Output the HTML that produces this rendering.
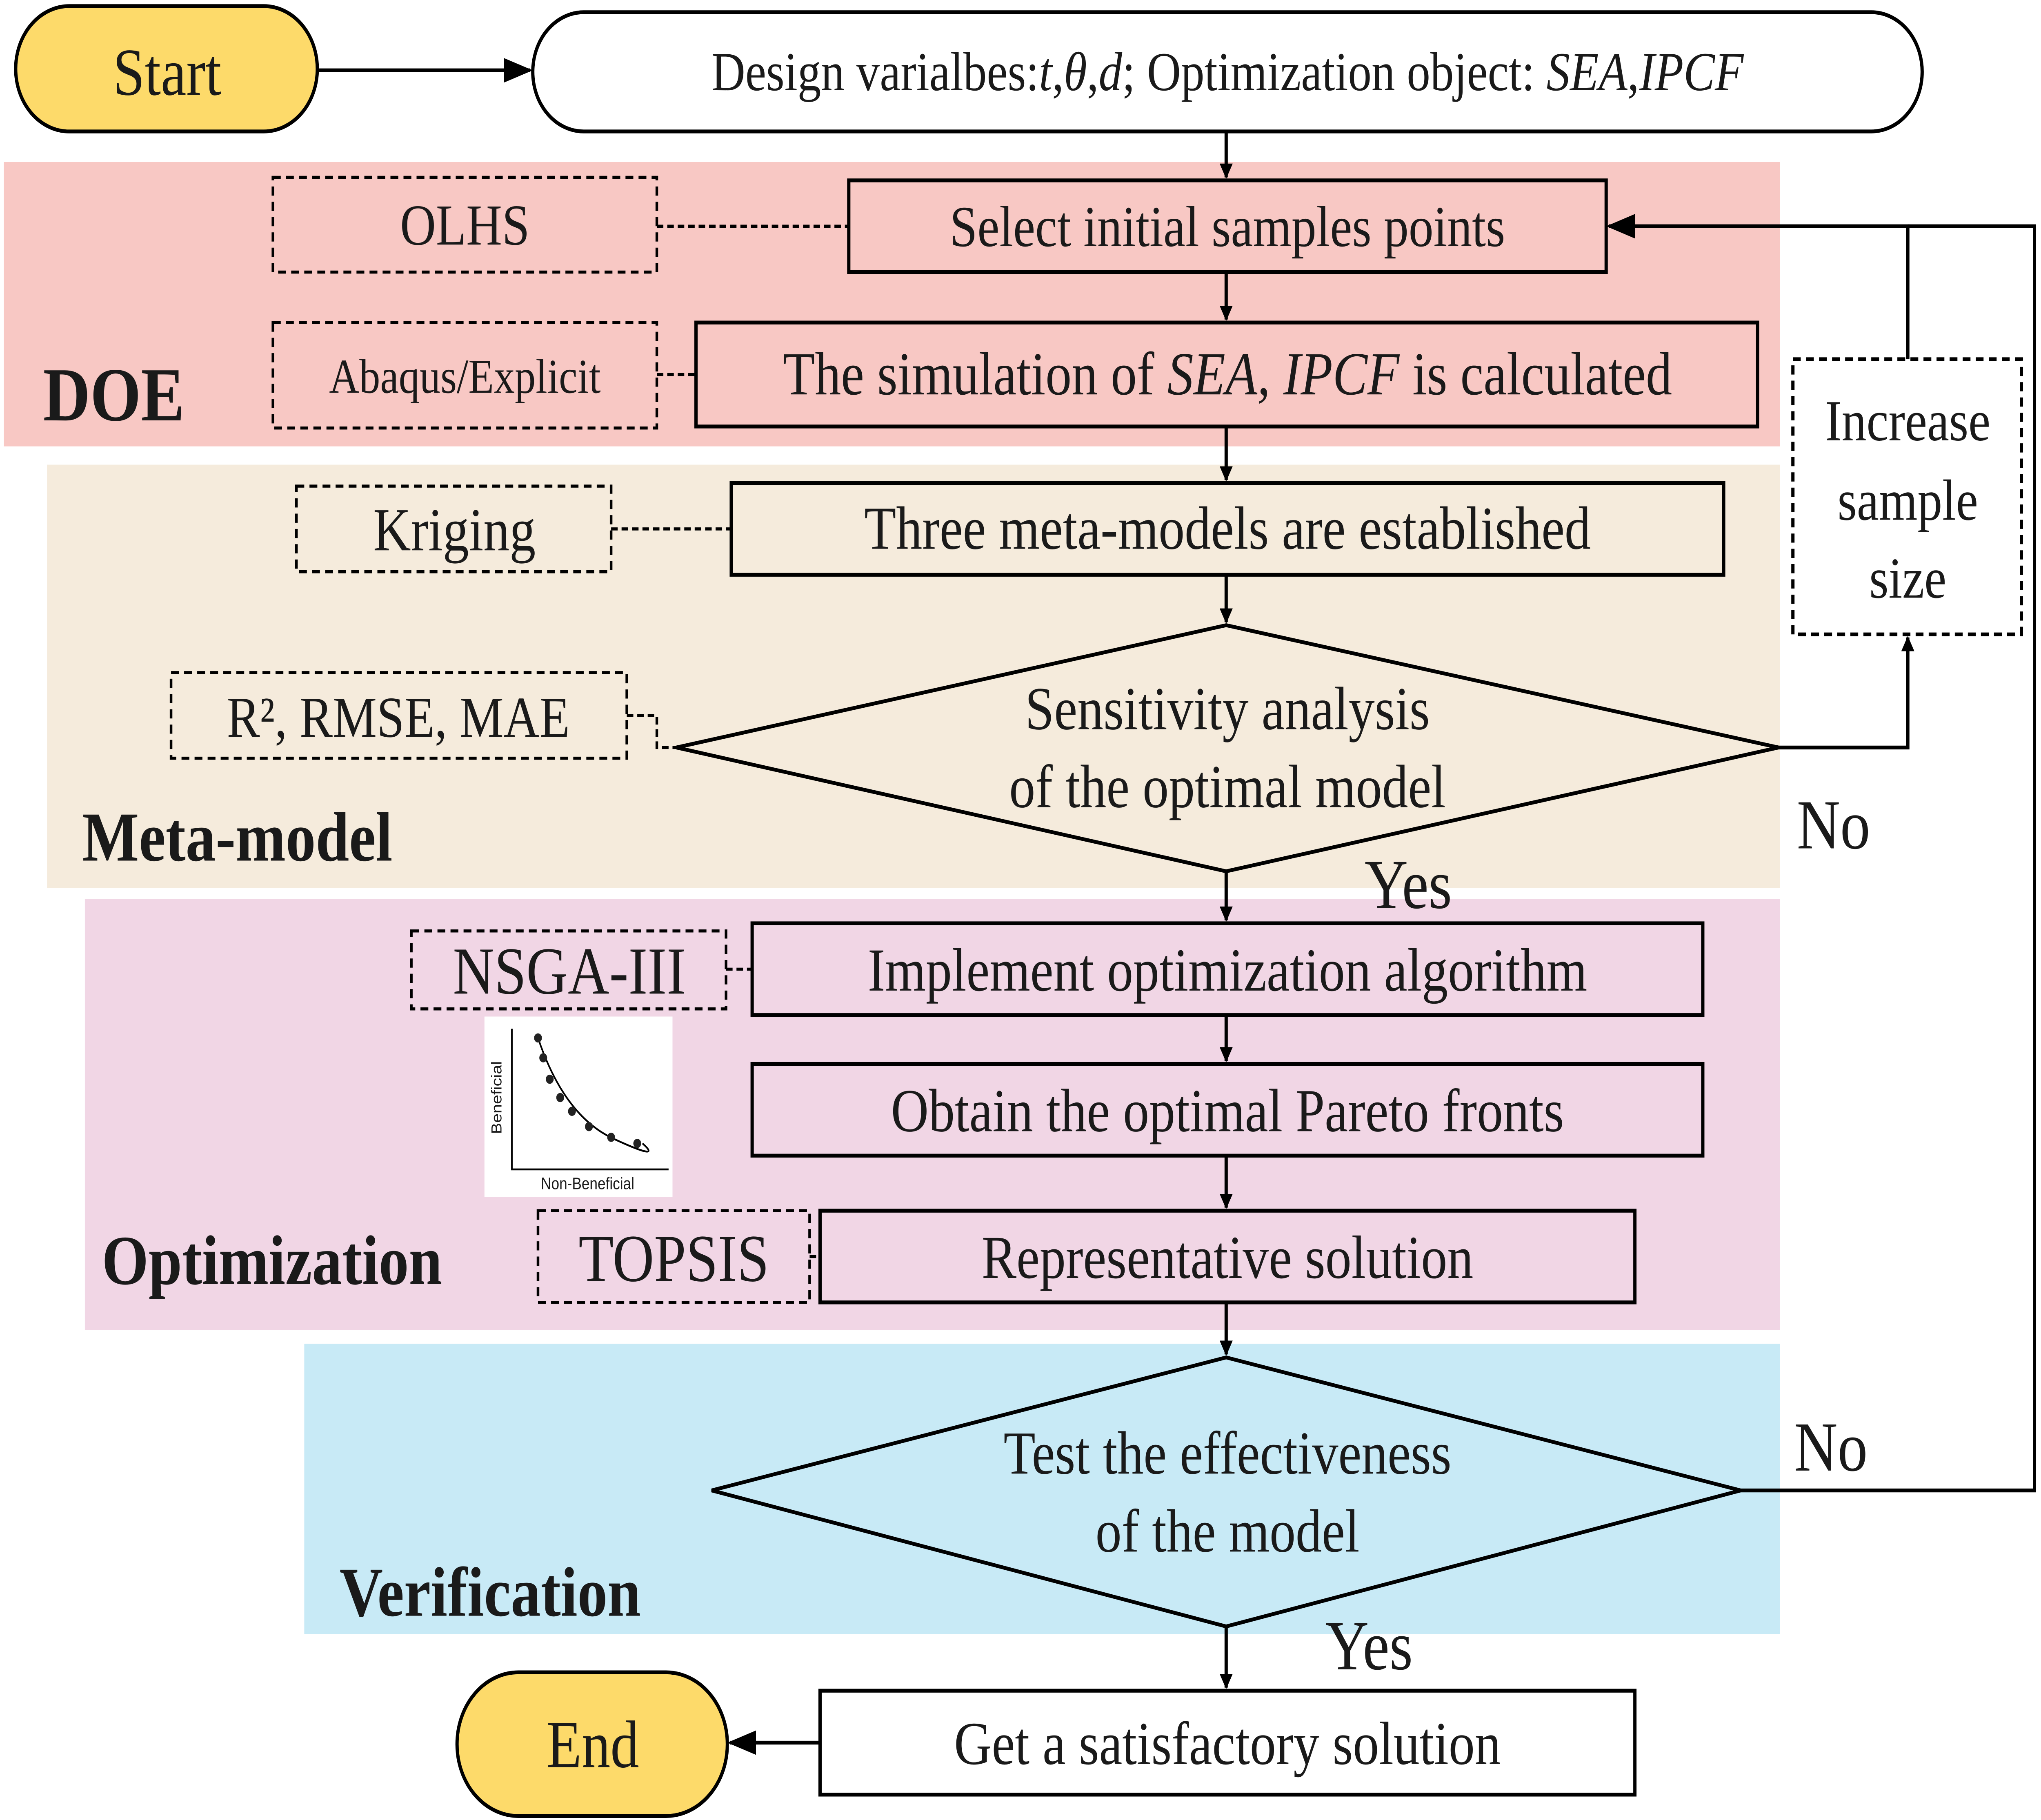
<!DOCTYPE html>
<html><head><meta charset="utf-8"><style>
html,body{margin:0;padding:0;background:#fff;overflow:hidden;width:100%;height:100%}
svg{display:block;position:fixed;left:0;top:0;width:100vw;height:100vh}
text{font-family:"Liberation Serif",serif;fill:#1a1a1a}
</style></head><body>
<svg viewBox="0 0 1563 1190.6" preserveAspectRatio="none" xmlns="http://www.w3.org/2000/svg">
<defs>
<marker id="a" markerWidth="10" markerHeight="10" refX="9" refY="5" orient="auto" markerUnits="userSpaceOnUse" viewBox="0 0 10 10"><path d="M0,0 L10,5 L0,10 z" fill="#000"/></marker>
<marker id="b" markerWidth="22" markerHeight="16" refX="20" refY="8" orient="auto" markerUnits="userSpaceOnUse" viewBox="0 0 22 16"><path d="M0,0 L22,8 L0,16 z" fill="#000"/></marker>
</defs>
<rect width="1563" height="1191" fill="#fff"/>
<rect x="3" y="106" width="1360" height="186" fill="#f8c8c4"/>
<rect x="36" y="304" width="1327" height="277" fill="#f5ebdc"/>
<rect x="65" y="588" width="1298" height="282" fill="#f1d6e5"/>
<rect x="233" y="879" width="1130" height="190" fill="#c8eaf6"/>
<g fill="none" stroke="#000" stroke-width="2.5">
<rect x="12" y="4" width="231" height="82" rx="41" fill="#fdda6a"/>
<line x1="243" y1="46" x2="406" y2="46" marker-end="url(#b)"/>
<rect x="408" y="8" width="1064" height="78" rx="39" fill="#fff"/>
<line x1="939" y1="86" x2="939" y2="116" marker-end="url(#a)"/>
<rect x="650" y="118" width="580" height="60"/>
<line x1="939" y1="178" x2="939" y2="209" marker-end="url(#a)"/>
<rect x="533" y="211" width="813" height="68"/>
<line x1="939" y1="279" x2="939" y2="314" marker-end="url(#a)"/>
<rect x="560" y="316" width="760" height="60"/>
<line x1="939" y1="376" x2="939" y2="407" marker-end="url(#a)"/>
<polygon points="939,409 1362,489 939,570 518,489"/>
<line x1="939" y1="570" x2="939" y2="602" marker-end="url(#a)"/>
<rect x="576" y="604" width="728" height="60"/>
<line x1="939" y1="664" x2="939" y2="694" marker-end="url(#a)"/>
<rect x="576" y="696" width="728" height="60"/>
<line x1="939" y1="756" x2="939" y2="790" marker-end="url(#a)"/>
<rect x="628" y="792" width="624" height="60"/>
<line x1="939" y1="852" x2="939" y2="886" marker-end="url(#a)"/>
<polygon points="939,888 1333,975 939,1064 545,975"/>
<line x1="939" y1="1064" x2="939" y2="1104" marker-end="url(#a)"/>
<rect x="628" y="1106" width="624" height="68" fill="#fff"/>
<line x1="628" y1="1140" x2="559" y2="1140" marker-end="url(#b)"/>
<rect x="350" y="1094" width="207" height="94" rx="47" fill="#fdda6a"/>
<polyline points="1362,489 1461,489 1461,417" marker-end="url(#a)"/>
<polyline points="1461,235 1461,148 1232,148" marker-end="url(#b)"/>
<polyline points="1333,975 1558,975 1558,148 1461,148"/>
</g>
<g fill="none" stroke="#000" stroke-width="2" stroke-dasharray="6,4">
<rect x="209" y="116" width="294" height="62"/>
<rect x="209" y="211" width="294" height="69"/>
<rect x="227" y="318" width="241" height="56"/>
<rect x="131" y="440" width="349" height="56"/>
<rect x="1373" y="235" width="175" height="180" stroke-width="2.5" fill="#fff"/>
<rect x="315" y="609" width="241" height="51"/>
<rect x="412" y="792" width="208" height="60"/>
<line x1="503" y1="148" x2="650" y2="148" stroke-dasharray="5,3"/>
<line x1="503" y1="245" x2="533" y2="245" stroke-dasharray="5,3"/>
<line x1="468" y1="346" x2="560" y2="346" stroke-dasharray="5,3"/>
<polyline points="480,468 503,468 503,489 518,489" stroke-dasharray="5,3"/>
<line x1="556" y1="634" x2="576" y2="634" stroke-dasharray="5,3"/>
<line x1="620" y1="822" x2="628" y2="822" stroke-dasharray="5,3"/>
</g>
<rect x="371" y="665" width="144" height="118" fill="#fff"/>
<g stroke="#000" stroke-width="1.2" fill="none">
<polyline points="392,673 392,765 512,765"/>
<path d="M412,679 Q432,730 470,745 T492,748"/>
</g>
<g fill="#222">
<circle cx="412" cy="679" r="3"/><circle cx="416" cy="692" r="3"/><circle cx="421" cy="706" r="3"/><circle cx="429" cy="718" r="3"/><circle cx="438" cy="727" r="3"/><circle cx="451" cy="737" r="3"/><circle cx="468" cy="744" r="3"/><circle cx="488" cy="748" r="3"/>
</g>
<text x="450" y="778" font-size="11" text-anchor="middle" style="font-family:'Liberation Sans',sans-serif">Non-Beneficial</text>
<text transform="translate(384,718) rotate(-90)" font-size="11" text-anchor="middle" style="font-family:'Liberation Sans',sans-serif">Beneficial</text>
<text x="128" y="62" font-size="44" text-anchor="middle">Start</text>
<text x="940" y="59" font-size="36" text-anchor="middle">Design varialbes:<tspan font-style="italic">t</tspan>,<tspan font-style="italic">θ</tspan>,<tspan font-style="italic">d</tspan>; Optimization object: <tspan font-style="italic">SEA</tspan>,<tspan font-style="italic">IPCF</tspan></text>
<text x="356" y="160" font-size="38" text-anchor="middle">OLHS</text>
<text x="940" y="161" font-size="38" text-anchor="middle">Select initial samples points</text>
<text x="356" y="257" font-size="32" text-anchor="middle">Abaqus/Explicit</text>
<text x="940" y="258" font-size="40" text-anchor="middle">The simulation of <tspan font-style="italic">SEA, IPCF</tspan> is calculated</text>
<text x="33" y="275" font-size="50" font-weight="bold">DOE</text>
<text x="348" y="360" font-size="40" text-anchor="middle">Kriging</text>
<text x="940" y="359" font-size="40" text-anchor="middle">Three meta-models are established</text>
<text x="305" y="482" font-size="38" text-anchor="middle">R², RMSE, MAE</text>
<text x="940" y="477" font-size="40" text-anchor="middle">Sensitivity analysis</text>
<text x="940" y="528" font-size="40" text-anchor="middle">of the optimal model</text>
<text x="63" y="563" font-size="46" font-weight="bold">Meta-model</text>
<text x="1461" y="288" font-size="38" text-anchor="middle">Increase</text>
<text x="1461" y="340" font-size="38" text-anchor="middle">sample</text>
<text x="1461" y="391" font-size="38" text-anchor="middle">size</text>
<text x="1376" y="555" font-size="46">No</text>
<text x="1045" y="594" font-size="46">Yes</text>
<text x="436" y="650" font-size="44" text-anchor="middle">NSGA-III</text>
<text x="940" y="648" font-size="40" text-anchor="middle">Implement optimization algorithm</text>
<text x="940" y="740" font-size="40" text-anchor="middle">Obtain the optimal Pareto fronts</text>
<text x="516" y="838" font-size="44" text-anchor="middle">TOPSIS</text>
<text x="940" y="836" font-size="40" text-anchor="middle">Representative solution</text>
<text x="78" y="840" font-size="46" font-weight="bold">Optimization</text>
<text x="940" y="964" font-size="40" text-anchor="middle">Test the effectiveness</text>
<text x="940" y="1015" font-size="40" text-anchor="middle">of the model</text>
<text x="260" y="1057" font-size="46" font-weight="bold">Verification</text>
<text x="1374" y="962" font-size="46">No</text>
<text x="1015" y="1092" font-size="46">Yes</text>
<text x="454" y="1156" font-size="44" text-anchor="middle">End</text>
<text x="940" y="1154" font-size="40" text-anchor="middle">Get a satisfactory solution</text>
</svg>
</body></html>
